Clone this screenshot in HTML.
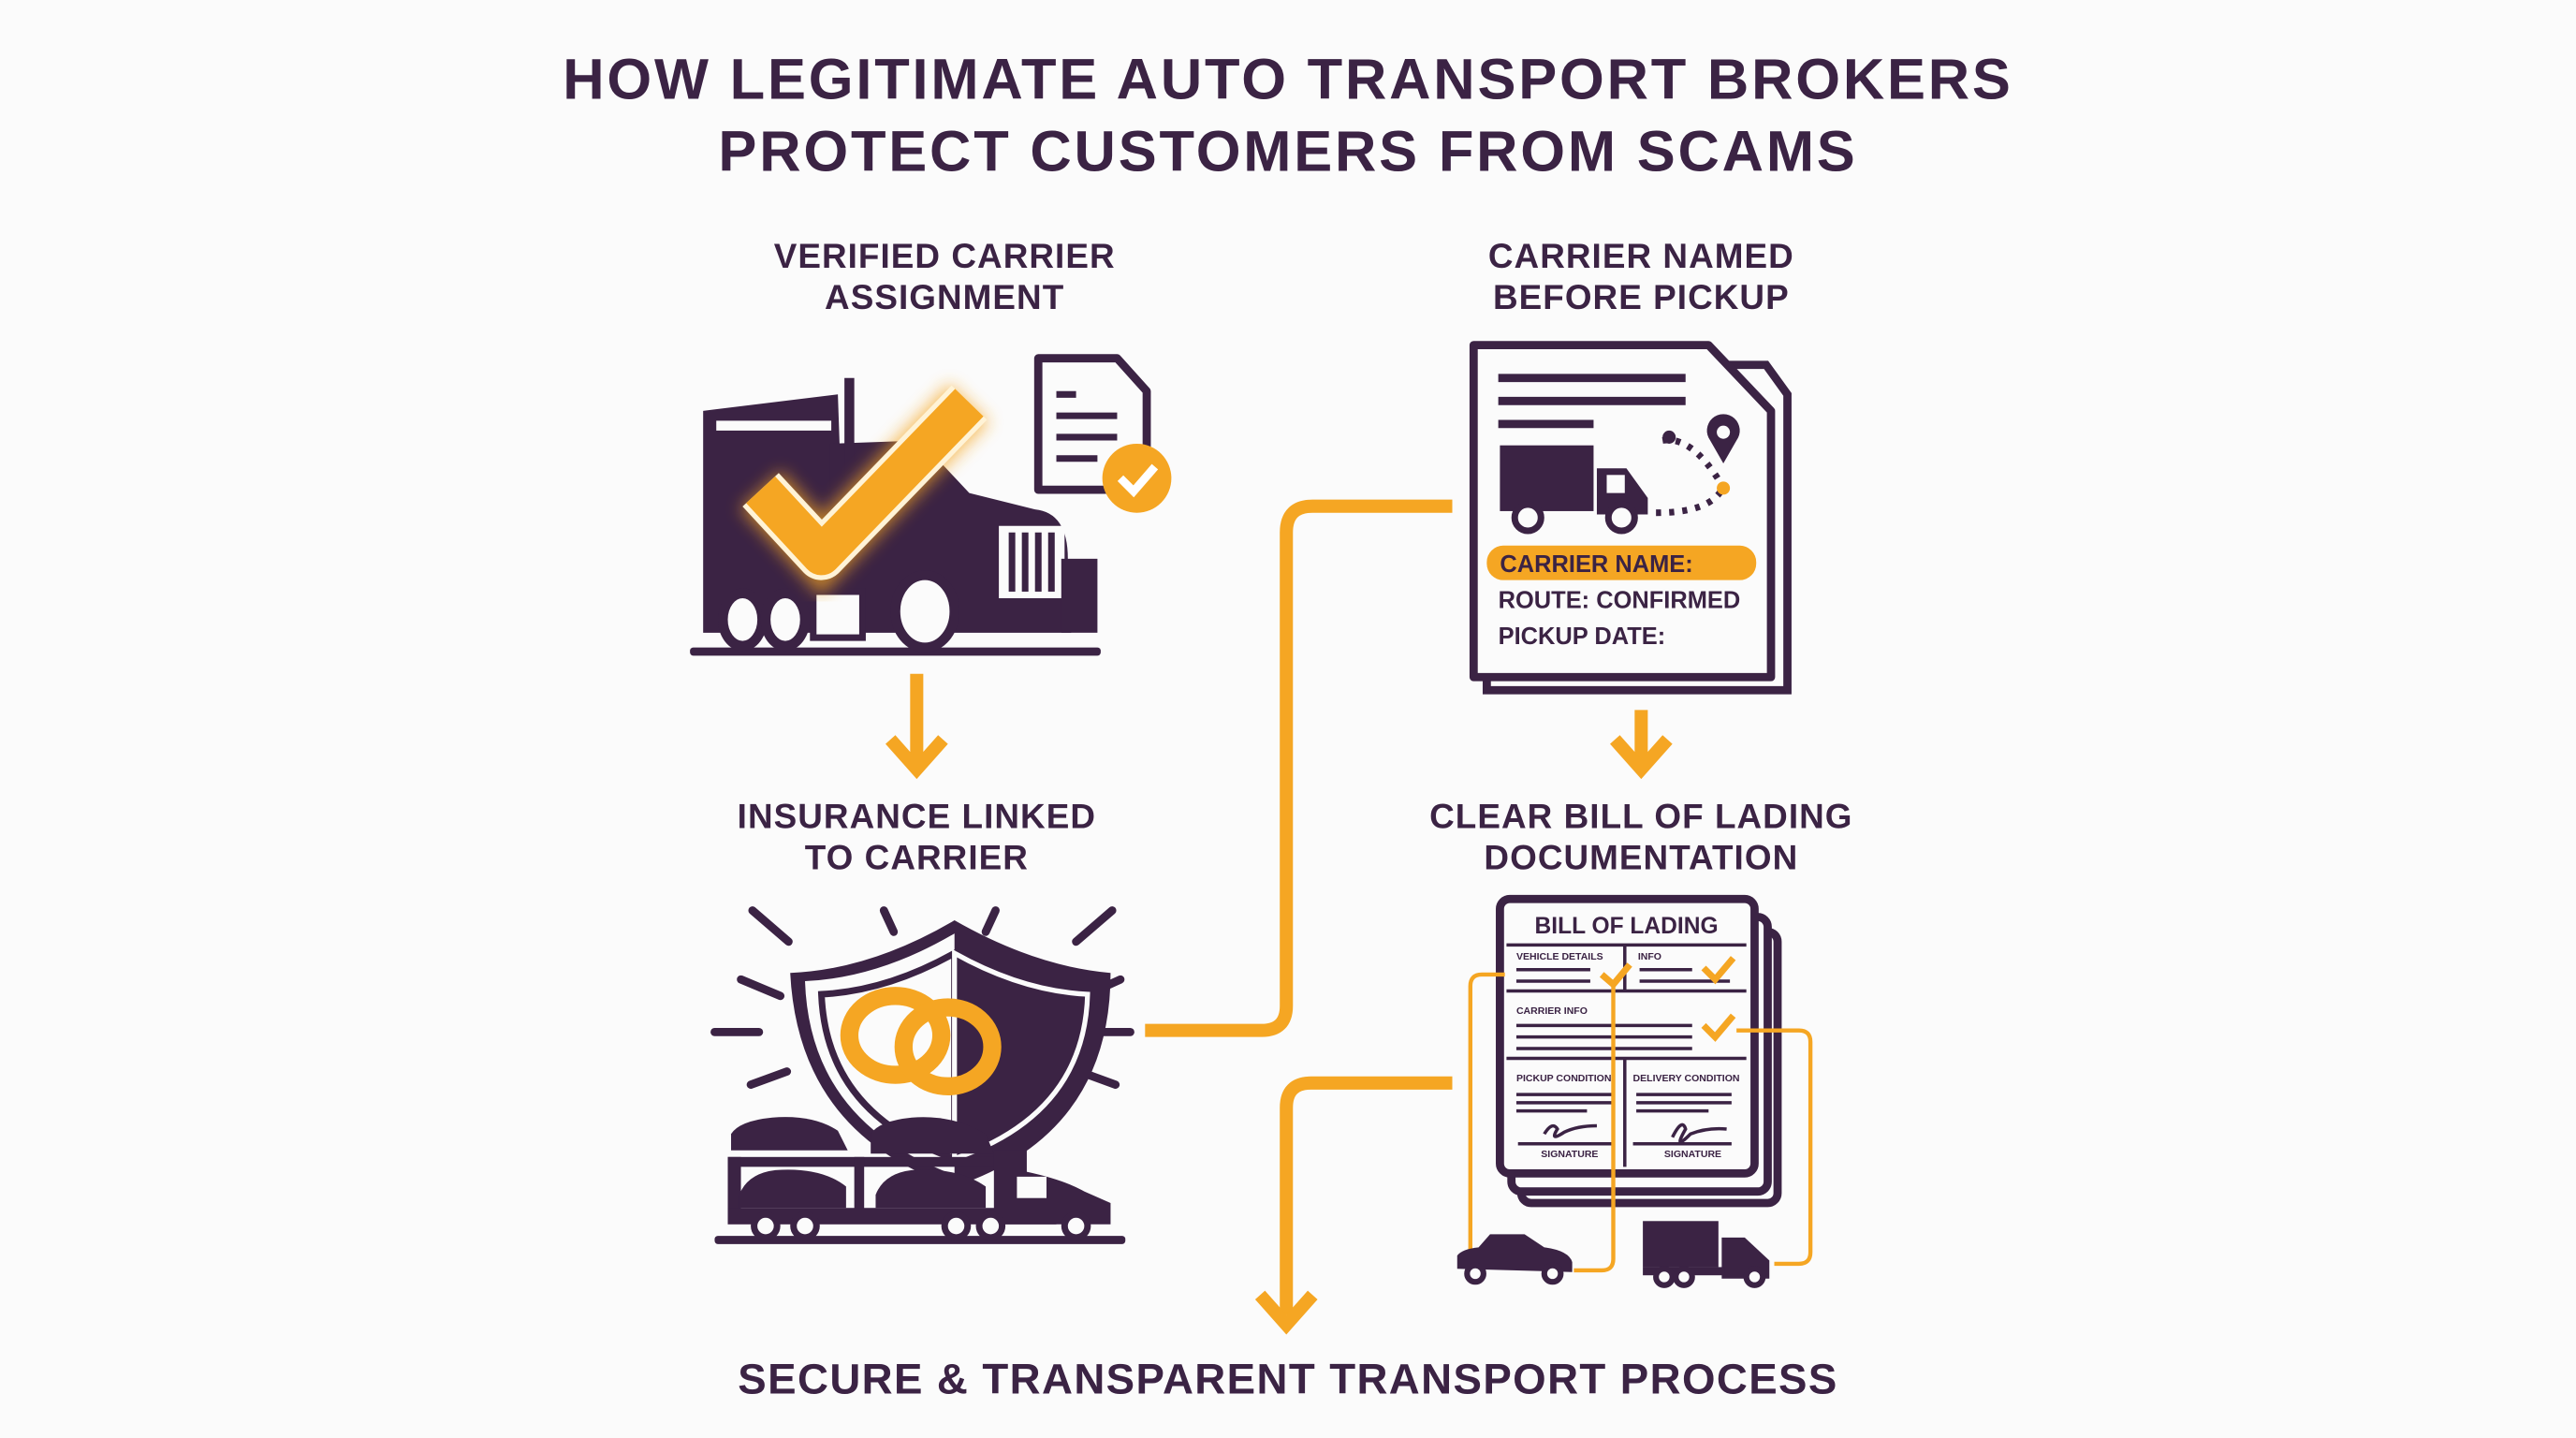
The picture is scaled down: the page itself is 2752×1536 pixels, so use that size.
<!DOCTYPE html>
<html><head><meta charset="utf-8"><style>
html,body{margin:0;padding:0;background:#fbfbfb;width:2752px;height:1536px;overflow:hidden;}
svg{display:block;}
text{font-family:"Liberation Sans",sans-serif;font-weight:bold;fill:#3b2344;}
</style></head><body>
<svg width="2752" height="1536" viewBox="0 0 1568 875" preserveAspectRatio="none" xmlns="http://www.w3.org/2000/svg">
<rect width="1568" height="875" fill="#fbfbfb"/>
<defs>
<filter id="glow" x="-30%" y="-30%" width="160%" height="160%"><feGaussianBlur stdDeviation="5"/></filter>
</defs>
<!-- Title -->
<text x="784" y="60" font-size="35" text-anchor="middle" letter-spacing="1.6">HOW LEGITIMATE AUTO TRANSPORT BROKERS</text>
<text x="784" y="104" font-size="35" text-anchor="middle" letter-spacing="1.6">PROTECT CUSTOMERS FROM SCAMS</text>

<g font-size="21" text-anchor="middle" letter-spacing="0.6">
<text x="575" y="163">VERIFIED CARRIER</text>
<text x="575" y="188">ASSIGNMENT</text>
<text x="999" y="163">CARRIER NAMED</text>
<text x="999" y="188">BEFORE PICKUP</text>
<text x="558" y="504">INSURANCE LINKED</text>
<text x="558" y="529">TO CARRIER</text>
<text x="999" y="504">CLEAR BILL OF LADING</text>
<text x="999" y="529">DOCUMENTATION</text>
</g>
<text x="784" y="848" font-size="26" text-anchor="middle" letter-spacing="0.8">SECURE &amp; TRANSPARENT TRANSPORT PROCESS</text>

<!-- Connectors -->
<g fill="none" stroke="#f5a623" stroke-width="8">
<line x1="558" y1="410" x2="558" y2="462"/>
<polyline points="542,450 558,468 574,450"/>
<line x1="999" y1="432" x2="999" y2="462"/>
<polyline points="983,450 999,468 1015,450"/>
<path d="M697 627 H768 Q783 627 783 612 V324 Q783 308 799 308 H884"/>
<path d="M884 659 H798 Q783 659 783 674 V800"/>
<polyline points="767,788 783,806 799,788"/>
</g>

<!-- Truck icon -->
<g fill="#3b2344">
<polygon points="428,250 510,240 515,385 428,385"/>
<rect x="436" y="256" width="70" height="6" fill="#fbfbfb"/>
<path d="M505 270 L560 268 L590 300 L630 310 Q650 312 650 340 L652 385 L505 385 Z"/>
<rect x="608" y="320" width="40" height="44" fill="#fbfbfb"/>
<rect x="614" y="324" width="4" height="36"/><rect x="622" y="324" width="4" height="36"/><rect x="630" y="324" width="4" height="36"/><rect x="638" y="324" width="4" height="36"/>
<rect x="646" y="340" width="22" height="45"/>
<rect x="420" y="394" width="250" height="5" rx="2"/>
<rect x="514" y="230" width="6" height="70"/>
</g>
<g fill="#fbfbfb" stroke="#3b2344" stroke-width="6">
<ellipse cx="452" cy="377" rx="12" ry="16"/>
<ellipse cx="478" cy="377" rx="12" ry="16"/>
<ellipse cx="563" cy="372" rx="18" ry="22"/>
</g>
<rect x="495" y="360" width="30" height="28" fill="#fbfbfb" stroke="#3b2344" stroke-width="4"/>
<polyline points="463,298 500,338 590,245" fill="none" stroke="#f5a623" stroke-width="34" filter="url(#glow)" opacity="0.7"/>
<polyline points="463,298 500,338 590,245" fill="none" stroke="#fff3d6" stroke-width="30" stroke-linejoin="round"/>
<polyline points="463,298 500,338 590,245" fill="none" stroke="#f5a623" stroke-width="24" stroke-linejoin="round"/>
<!-- small doc -->
<path d="M632 218 H680 L698 238 V298 H632 Z" fill="#fbfbfb" stroke="#3b2344" stroke-width="5" stroke-linejoin="round"/>
<g stroke="#3b2344" stroke-width="4"><line x1="643" y1="240" x2="655" y2="240"/><line x1="643" y1="253" x2="680" y2="253"/><line x1="643" y1="266" x2="680" y2="266"/><line x1="643" y1="279" x2="668" y2="279"/></g>
<circle cx="692" cy="291" r="21" fill="#f5a623"/>
<polyline points="682,291 690,299 703,284" fill="none" stroke="#fff" stroke-width="5"/>

<!-- Carrier named doc -->
<path d="M905 222 H1075 L1088 240 V420 H905 Z" fill="#fbfbfb" stroke="#3b2344" stroke-width="5"/>
<path d="M897 210 H1040 L1078 250 V412 H897 Z" fill="#fbfbfb" stroke="#3b2344" stroke-width="5" stroke-linejoin="round"/>
<g stroke="#3b2344" stroke-width="5"><line x1="912" y1="230" x2="1026" y2="230"/><line x1="912" y1="244" x2="1026" y2="244"/><line x1="912" y1="258" x2="970" y2="258"/></g>
<rect x="913" y="271" width="57" height="40" fill="#3b2344"/>
<path d="M972 285 H990 L1003 303 V313 H972 Z" fill="#3b2344"/>
<rect x="978" y="289" width="11" height="11" fill="#fbfbfb"/>
<circle cx="930" cy="315" r="8" fill="#fbfbfb" stroke="#3b2344" stroke-width="4"/>
<circle cx="987" cy="315" r="8" fill="#fbfbfb" stroke="#3b2344" stroke-width="4"/>
<path d="M1008 312 Q1040 312 1048 298" fill="none" stroke="#3b2344" stroke-width="4" stroke-dasharray="3 5"/>
<path d="M1012 268 Q1030 265 1048 295" fill="none" stroke="#3b2344" stroke-width="4" stroke-dasharray="3 5"/>
<circle cx="1016" cy="266" r="4" fill="#3b2344"/>
<path d="M1049 282 L1041 268 A10 10 0 1 1 1057 268 Z" fill="#3b2344"/>
<circle cx="1049" cy="263" r="4" fill="#fbfbfb"/>
<circle cx="1049" cy="297" r="4" fill="#f5a623"/>
<rect x="905" y="332" width="164" height="21" rx="10" fill="#f5a623"/>
<text x="913" y="348" font-size="14.5">CARRIER NAME:</text>
<text x="912" y="370" font-size="14.5">ROUTE: CONFIRMED</text>
<text x="912" y="392" font-size="14.5">PICKUP DATE:</text>

<!-- Shield rays -->
<g stroke="#3b2344" stroke-width="5" stroke-linecap="round" fill="none">
<line x1="458" y1="554" x2="480" y2="573"/><line x1="677" y1="554" x2="655" y2="573"/>
<line x1="538" y1="554" x2="544" y2="567"/><line x1="606" y1="554" x2="600" y2="567"/>
<line x1="451" y1="596" x2="475" y2="606"/><line x1="682" y1="596" x2="660" y2="606"/>
<line x1="435" y1="628" x2="462" y2="628"/><line x1="660" y1="628" x2="688" y2="628"/>
<line x1="457" y1="660" x2="479" y2="652"/><line x1="679" y1="660" x2="657" y2="652"/>
</g>
<path d="M481 592 Q530 590 581 560 Q630 588 676 592 Q676 690 581 722 Q486 690 481 592 Z" fill="#3b2344"/>
<path d="M490 597 Q535 595 581 568 V715 Q493 683 490 597 Z" fill="#fbfbfb"/>
<path d="M500 605 Q540 603 581 580 V705 Q503 678 500 605 Z" fill="none" stroke="#3b2344" stroke-width="4"/>
<path d="M581 580 Q622 603 662 605 Q660 678 581 705 Z" fill="#3b2344" stroke="#fbfbfb" stroke-width="3"/>
<g fill="none" stroke="#f5a623" stroke-width="11">
<ellipse cx="545" cy="630" rx="28" ry="24"/>
<ellipse cx="577" cy="637" rx="27" ry="24"/>
</g>
<!-- Car carrier -->
<rect x="435" y="752" width="250" height="5" fill="#3b2344" rx="2"/>
<g fill="#3b2344">
<rect x="443" y="704" width="170" height="6"/>
<rect x="443" y="704" width="8" height="40"/>
<rect x="520" y="704" width="6" height="38"/>
<rect x="443" y="735" width="200" height="10"/>
<path d="M605 700 H625 V713 Q648 718 660 725 L676 732 V745 H605 Z"/>
<path d="M445 690 Q450 682 470 680 Q495 678 510 688 L516 700 L445 700 Z"/>
<path d="M530 690 Q535 682 555 680 Q580 678 600 690 L605 702 L530 702 Z"/>
<path d="M450 727 Q455 714 472 712 Q500 710 515 722 L515 735 L450 735 Z"/>
<path d="M533 727 Q538 714 555 712 Q583 710 600 722 L600 735 L533 735 Z"/>
</g>
<rect x="619" y="716" width="18" height="13" fill="#fbfbfb"/>
<g fill="#fbfbfb" stroke="#3b2344" stroke-width="4">
<circle cx="466" cy="746" r="7"/><circle cx="490" cy="746" r="7"/><circle cx="582" cy="746" r="7"/><circle cx="603" cy="746" r="7"/><circle cx="655" cy="746" r="7"/>
</g>

<!-- Bill of lading -->
<g fill="#fbfbfb" stroke="#3b2344" stroke-width="5" stroke-linejoin="round">
<rect x="926" y="567" width="156" height="165" rx="6"/>
<rect x="920" y="558" width="156" height="167" rx="6"/>
<rect x="913" y="547" width="155" height="167" rx="6"/>
</g>
<text x="990" y="568" font-size="14" text-anchor="middle">BILL OF LADING</text>
<g stroke="#3b2344" stroke-width="2" fill="none">
<line x1="917" y1="575" x2="1063" y2="575"/><line x1="917" y1="603" x2="1063" y2="603"/><line x1="917" y1="644" x2="1063" y2="644"/>
<line x1="989" y1="575" x2="989" y2="603"/><line x1="989" y1="644" x2="989" y2="710"/>
<line x1="923" y1="590" x2="968" y2="590"/><line x1="923" y1="597" x2="968" y2="597"/>
<line x1="998" y1="590" x2="1030" y2="590"/><line x1="998" y1="597" x2="1053" y2="597"/>
<line x1="923" y1="624" x2="1030" y2="624"/><line x1="923" y1="631" x2="1030" y2="631"/><line x1="923" y1="638" x2="1030" y2="638"/>
<line x1="923" y1="666" x2="982" y2="666"/><line x1="923" y1="671" x2="982" y2="671"/><line x1="923" y1="676" x2="966" y2="676"/>
<line x1="996" y1="666" x2="1054" y2="666"/><line x1="996" y1="671" x2="1054" y2="671"/><line x1="996" y1="676" x2="1040" y2="676"/>
<line x1="924" y1="696" x2="982" y2="696"/><line x1="994" y1="696" x2="1054" y2="696"/>
<path d="M940 690 q5 -8 8 -3 q-5 8 4 2 q8 -4 20 -4"/><path d="M1018 692 q6 -12 8 -5 q-8 14 3 3 q10 -4 22 -3"/>
</g>
<g font-size="6">
<text x="923" y="584">VEHICLE DETAILS</text><text x="997" y="584">INFO</text>
<text x="923" y="617">CARRIER INFO</text>
<text x="923" y="658">PICKUP CONDITION</text><text x="994" y="658">DELIVERY CONDITION</text>
<text x="938" y="704">SIGNATURE</text><text x="1013" y="704">SIGNATURE</text>
</g>
<g fill="none" stroke="#f5a623" stroke-width="4">
<polyline points="975,593 982,599 992,587"/>
<polyline points="1037,589 1044,596 1055,583"/>
<polyline points="1037,624 1044,631 1055,618"/>
</g>
<g fill="none" stroke="#f5a623" stroke-width="2.5">
<path d="M916 593 H902 Q895 593 895 600 V762"/>
<path d="M958 773 H975 Q982 773 982 766 V600"/>
<path d="M1057 627 H1095 Q1102 627 1102 634 V762 Q1102 769 1095 769 H1080"/>
</g>
<!-- small car & truck -->
<g fill="#3b2344">
<path d="M887 772 V764 Q890 760 900 759 L907 751 H928 L940 759 Q955 761 957 768 V774 Z"/>
<rect x="1000" y="743" width="46" height="28"/>
<path d="M1048 753 H1062 L1077 767 V778 H1048 Z"/>
<rect x="1000" y="771" width="50" height="5"/>
</g>
<g fill="#fbfbfb" stroke="#3b2344" stroke-width="3.5">
<circle cx="898" cy="775" r="5"/><circle cx="945" cy="775" r="5"/>
<circle cx="1013" cy="777" r="5"/><circle cx="1025" cy="777" r="5"/><circle cx="1068" cy="777" r="5"/>
</g>
</svg>
</body></html>
